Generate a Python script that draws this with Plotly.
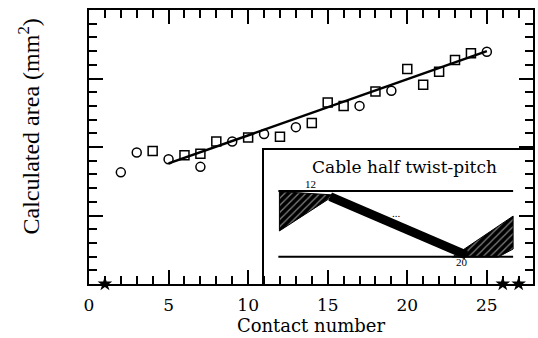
import plotly.graph_objects as go

# ---- data ----
square_x = [4, 6, 7, 8, 10, 12, 14, 15, 16, 18, 20, 21, 22, 23, 24]
square_y = [1.94, 1.88, 1.90, 2.08, 2.14, 2.15, 2.35, 2.65, 2.60, 2.81, 3.14, 2.91, 3.10, 3.27, 3.37]
circle_x = [2, 3, 5, 7, 9, 11, 13, 17, 19, 25]
circle_y = [1.63, 1.92, 1.82, 1.71, 2.08, 2.19, 2.29, 2.60, 2.82, 3.39]
fit_x = [5, 25]
fit_y = [1.76, 3.40]
star_x = [1, 26, 27]
star_y = [0, 0, 0]
x_ticks = [0, 5, 10, 15, 20, 25]

# inset schematic (normalised inset coordinates)
upper_x = [0.052, 0.926]
upper_y = [0.694, 0.694]
lower_x = [0.052, 0.926]
lower_y = [0.204, 0.204]
band_x = [0.245, 0.752]
band_y = [0.652, 0.216]
left_hatch_x = [0.056, 0.262, 0.056, 0.056]
left_hatch_y = [0.690, 0.664, 0.396, 0.690]
right_hatch_x = [0.700, 0.926, 0.926, 0.870, 0.700]
right_hatch_y = [0.201, 0.507, 0.261, 0.201, 0.201]

SERIF = "Liberation Serif"
WIDE = "DejaVu Serif"

fig = go.Figure()

fig.add_trace(go.Scatter(x=fit_x, y=fit_y, mode="lines",
                         line=dict(color="black", width=2.5), showlegend=False))
fig.add_trace(go.Scatter(x=square_x, y=square_y, mode="markers",
                         marker=dict(symbol="square-open", size=9, color="black",
                                     line=dict(width=1.5, color="black")),
                         showlegend=False))
fig.add_trace(go.Scatter(x=circle_x, y=circle_y, mode="markers",
                         marker=dict(symbol="circle-open", size=9, color="black",
                                     line=dict(width=1.5, color="black")),
                         showlegend=False))
fig.add_trace(go.Scatter(x=star_x, y=star_y, mode="markers", cliponaxis=False,
                         marker=dict(symbol="star", size=11, color="black"),
                         showlegend=False))

# inset traces
fig.add_trace(go.Scatter(x=left_hatch_x, y=left_hatch_y, mode="lines", fill="toself",
                         fillcolor="black", line=dict(color="black", width=1),
                         fillpattern=dict(shape="/", fgcolor="white", bgcolor="black",
                                          size=5, solidity=0.25),
                         xaxis="x2", yaxis="y2", showlegend=False))
fig.add_trace(go.Scatter(x=right_hatch_x, y=right_hatch_y, mode="lines", fill="toself",
                         fillcolor="black", line=dict(color="black", width=1),
                         fillpattern=dict(shape="/", fgcolor="white", bgcolor="black",
                                          size=5, solidity=0.25),
                         xaxis="x2", yaxis="y2", showlegend=False))
fig.add_trace(go.Scatter(x=upper_x, y=upper_y, mode="lines",
                         line=dict(color="black", width=2),
                         xaxis="x2", yaxis="y2", showlegend=False))
fig.add_trace(go.Scatter(x=lower_x, y=lower_y, mode="lines",
                         line=dict(color="black", width=2),
                         xaxis="x2", yaxis="y2", showlegend=False))
fig.add_trace(go.Scatter(x=band_x, y=band_y, mode="lines",
                         line=dict(color="black", width=9),
                         xaxis="x2", yaxis="y2", showlegend=False))

fig.update_layout(
    width=538, height=338,
    margin=dict(l=89, r=3, t=10, b=54),
    paper_bgcolor="white",
    plot_bgcolor="rgba(0,0,0,0)",
    font=dict(family=SERIF, color="black"),
    xaxis=dict(range=[0, 27.9], tickvals=x_ticks, ticks="inside", ticklen=14,
               tickwidth=2, tickcolor="black", showline=True, linewidth=2,
               linecolor="black", mirror="ticks", showgrid=False, zeroline=False,
               tickfont=dict(family=WIDE, size=17), ticklabelstandoff=5,
               minor=dict(dtick=1, ticks="inside", ticklen=8, tickwidth=2,
                          tickcolor="black", showgrid=False),
               title=dict(text="Contact number", font=dict(family=WIDE, size=18),
                          standoff=3)),
    yaxis=dict(range=[0, 4], dtick=1, ticks="inside", ticklen=14, tickwidth=2,
               tickcolor="black", showline=True, linewidth=2, linecolor="black",
               mirror="ticks", showgrid=False, zeroline=False, showticklabels=False,
               minor=dict(dtick=0.2, ticks="inside", ticklen=8, tickwidth=2,
                          tickcolor="black", showgrid=False)),
    xaxis2=dict(domain=[0.395, 1.0], range=[0, 1], anchor="y2", showline=True,
                linewidth=2, linecolor="black", mirror=True, showgrid=False,
                zeroline=False, showticklabels=False, ticks=""),
    yaxis2=dict(domain=[0.0, 0.489], range=[0, 1], anchor="x2", showline=True,
                linewidth=2, linecolor="black", mirror=True, showgrid=False,
                zeroline=False, showticklabels=False, ticks=""),
    annotations=[
        dict(text="Calculated area (mm<sup>2</sup>)", textangle=-90,
             xref="paper", yref="paper", x=-0.135, y=0.575, xanchor="center",
             yanchor="middle", showarrow=False,
             font=dict(family=SERIF, size=24)),
        dict(text="Cable half twist-pitch", xref="x2", yref="y2", x=0.52, y=0.87,
             showarrow=False, font=dict(family=WIDE, size=17)),
        dict(text="12", xref="x2", yref="y2", x=0.17, y=0.75, showarrow=False,
             font=dict(family=SERIF, size=11)),
        dict(text="20", xref="x2", yref="y2", x=0.735, y=0.165, showarrow=False,
             font=dict(family=SERIF, size=11)),
        dict(text="...", xref="x2", yref="y2", x=0.49, y=0.53, showarrow=False,
             font=dict(family=SERIF, size=11)),
    ],
)

fig.write_html("out.html")
